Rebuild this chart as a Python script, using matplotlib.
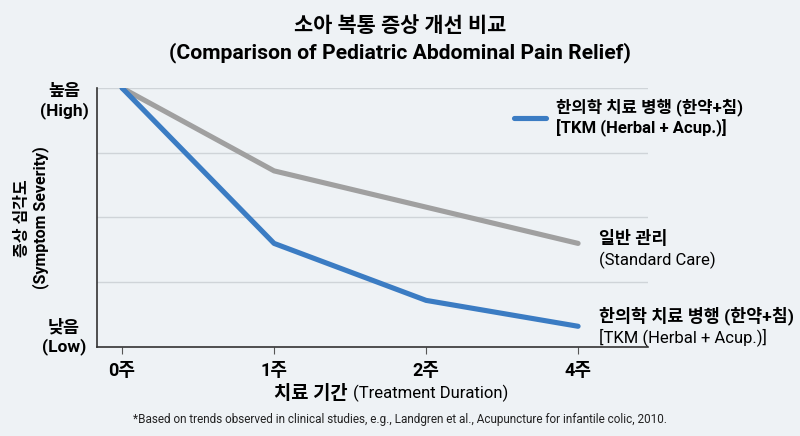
import matplotlib
matplotlib.use("Agg")
import matplotlib.pyplot as plt

plt.rcParams['font.family'] = ['Roboto', 'Noto Sans CJK KR', 'DejaVu Sans']

weeks = ["0주", "1주", "2주", "4주"]
standard_care = [100, 68, 54, 40]
tkm = [100, 40, 18, 8]
y_labels = ["낮음\n(Low)", "높음\n(High)"]

bg = "#eef2f5"
blue = "#3b7cc3"
gray = "#a0a0a0"

fig = plt.figure(figsize=(8, 4.36), dpi=100, facecolor=bg)
ax = fig.add_axes([97/800, 1 - 347/436, (648-97)/800, (347-88)/436])
ax.set_facecolor(bg)

x = list(range(len(weeks)))
ax.plot(x, standard_care, color=gray, lw=3.7, solid_capstyle="round", zorder=3)
ax.plot(x, tkm, color=blue, lw=3.7, solid_capstyle="round", zorder=4,
        label="한의학 치료 병행 (한약+침)\n[TKM (Herbal + Acup.)]")

ax.set_xlim(-0.165, 3.46)
ax.set_ylim(0, 100)
ax.set_xticks(x)
ax.set_xticklabels(weeks, fontsize=13, fontweight="bold")
ax.set_yticks([0, 100])
ax.set_yticklabels([])
ax.tick_params(axis="y", length=0)
ax.tick_params(axis="x", length=5, color="#555555", pad=6)

# y-end labels, nudged inside the axis range like the reference
ytr = ax.get_yaxis_transform()
ax.text(-0.06, 4.0, y_labels[0], transform=ytr, fontsize=12.5, fontweight="bold",
        ha="center", va="center", linespacing=1.2)
ax.text(-0.06, 94.8, y_labels[1], transform=ytr, fontsize=12.5, fontweight="bold",
        ha="center", va="center", linespacing=1.2)

for v in [25, 50, 75, 100]:
    ax.axhline(v, color="#cfd4d8", lw=1, zorder=1)

for s in ["top", "right"]:
    ax.spines[s].set_visible(False)
for s in ["left", "bottom"]:
    ax.spines[s].set_color("#333333")
    ax.spines[s].set_linewidth(1.2)

ax.text(0.455, -0.18, "치료 기간", transform=ax.transAxes, fontsize=13.5, fontweight="bold",
        ha="right", va="center")
ax.text(0.465, -0.18, "(Treatment Duration)", transform=ax.transAxes, fontsize=12,
        ha="left", va="center")

fig.text(32/800, 1 - 218/436, "증상 심각도\n(Symptom Severity)", rotation=90, fontsize=11.5,
         fontweight="bold", ha="center", va="center", linespacing=1.2)

ax.text(3.14, standard_care[-1] + 2, "일반 관리", fontsize=12.5, fontweight="bold",
        va="center", ha="left")
ax.text(3.14, standard_care[-1] - 6.5, "(Standard Care)", fontsize=12, va="center", ha="left")
ax.text(3.14, tkm[-1] + 4, "한의학 치료 병행 (한약+침)", fontsize=12.5, fontweight="bold",
        va="center", ha="left")
ax.text(3.14, tkm[-1] - 4.3, "[TKM (Herbal + Acup.)]", fontsize=12, va="center", ha="left")

leg = ax.legend(loc="upper left", bbox_to_anchor=(0.745, 0.985), frameon=False,
                fontsize=12, handlelength=1.9, handletextpad=0.6, borderaxespad=0)
for t in leg.get_texts():
    t.set_fontweight("bold")

fig.text(0.5, 1 - 26/436, "소아 복통 증상 개선 비교", fontsize=15, fontweight="bold",
         ha="center", va="center")
fig.text(0.5, 1 - 53/436, "(Comparison of Pediatric Abdominal Pain Relief)", fontsize=15.2,
         fontweight="bold", ha="center", va="center")
fig.text(0.5, 1 - 419/436,
         "*Based on trends observed in clinical studies, e.g., Landgren et al., Acupuncture for infantile colic, 2010.",
         fontsize=8.5, ha="center", va="center", color="#222222")

fig.savefig("out.png", dpi=100, facecolor=bg)
